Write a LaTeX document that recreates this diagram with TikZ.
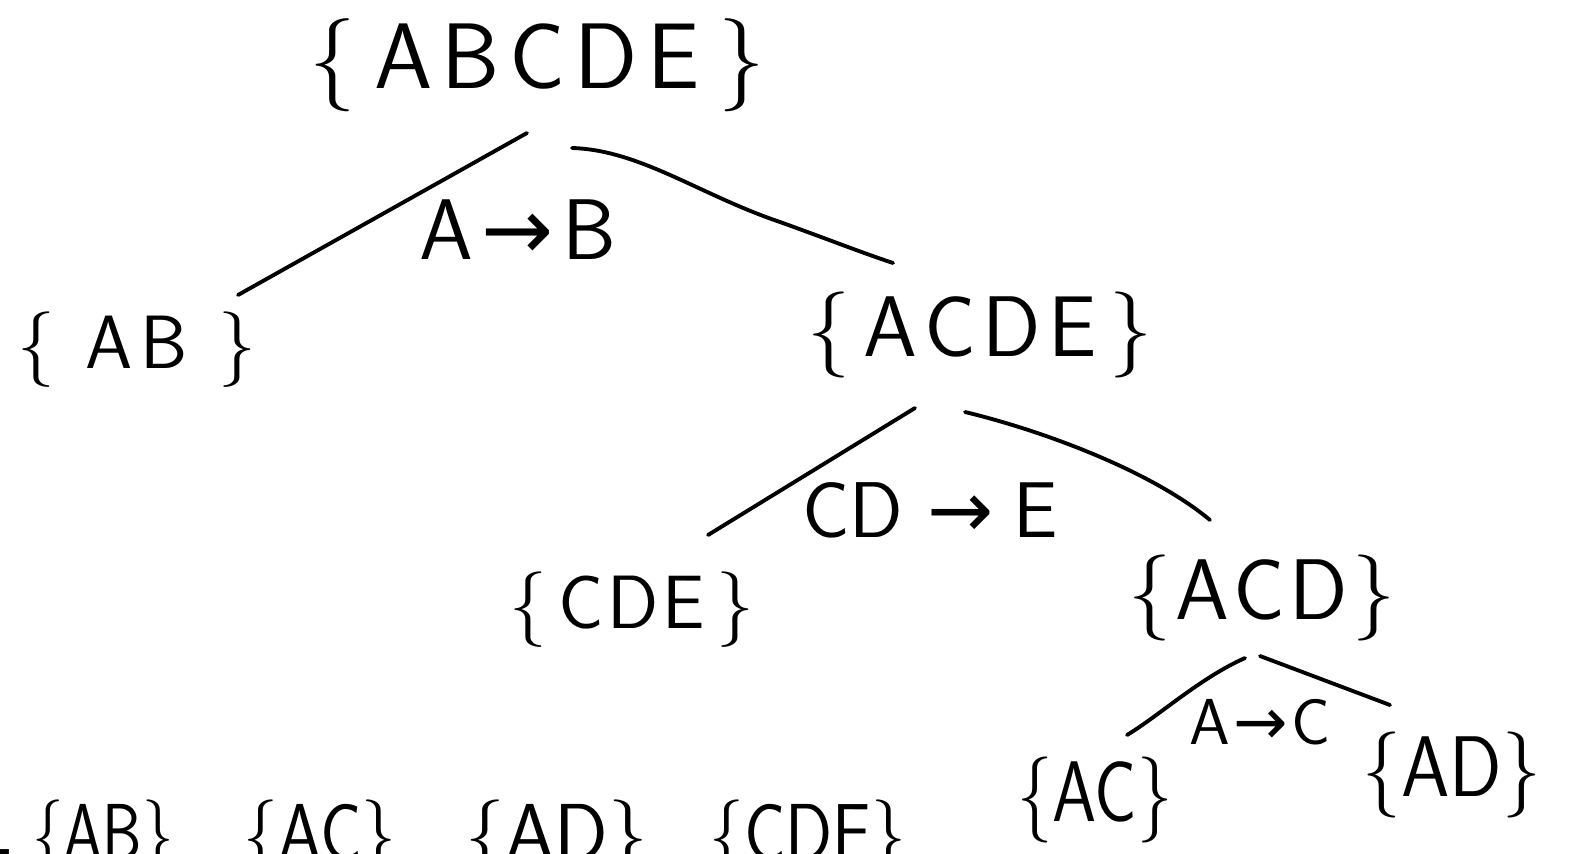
\documentclass[tikz,border=0pt]{standalone}
\usepackage{fontspec}
\usepackage{graphicx}
\usetikzlibrary{calc}
\newfontfamily\arrowfont{DejaVu Sans}
\newcommand\hsz[1]{\fontsize{#1}{#1}\selectfont\sffamily}
\newcommand\gap[1]{\hspace{#1em}}
\newcommand\implies{{\arrowfont →}}
\tikzset{
  x=0.02cm, y=-0.02cm,
  setnode/.style={inner sep=0pt, anchor=center},
  rowset/.style={inner sep=0pt, anchor=base, font=\hsz{46}},
  branch/.style={line width=2.2pt, line cap=round, line join=round},
}
\begin{document}
\begin{tikzpicture}
\useasboundingbox (0,0) rectangle (1578,853);
\clip (0,0) rectangle (1578,853);

% sets of the decomposition tree
\node[setnode, font=\hsz{53}] (root) at (537,65)
  {\{\gap{.2}A\gap{.1}B\gap{.1}C\gap{.1}D\gap{.1}E\gap{.2}\}};
\node[setnode, font=\hsz{43}] (ab)   at (137,350)
  {\{\gap{.4}A\gap{.1}B\gap{.4}\}};
\node[setnode, font=\hsz{49}] (acde) at (980,335)
  {\{\gap{.15}A\gap{.08}C\gap{.08}D\gap{.08}E\gap{.15}\}};
\node[setnode, font=\hsz{43}] (cde)  at (632,610)
  {\{\gap{.15}C\gap{.05}D\gap{.05}E\gap{.15}\}};
\node[setnode, font=\hsz{49}] (acd)  at (1262,598)
  {\{\gap{.05}A\gap{.05}C\gap{.05}D\gap{.05}\}};
\node[setnode, font=\hsz{49}] (ac)   at (1095,800) {\scalebox{0.82}[1]{\{AC\}}};
\node[setnode, font=\hsz{49}] (ad)   at (1452,775) {\scalebox{0.9}[1]{\{AD\}}};

% dependencies used for each split
\node[setnode, font=\hsz{49}] (fab)  at (518,230) {A\gap{.1}\implies\gap{.1}B};
\node[setnode, font=\hsz{45}] (fcde) at (930,510) {CD\gap{.3}\implies\gap{.25}E};
\node[setnode, font=\hsz{37}] (fac)  at (1260,722) {A\gap{.05}\implies\gap{.05}C};

% branches
\draw[branch] ($(root)+(-10,68)$) -- ($(ab)+(101,-55)$);
\draw[branch] ($(root)+(35,83)$)
  .. controls ($(root)+(103,85)$) and ($(root)+(163,130)$) .. ($(root)+(243,157)$)
  .. controls ($(root)+(293,175)$) and ($(root)+(323,187)$) .. ($(acde)+(-87,-72)$);
\draw[branch] ($(acde)+(-65,73)$) -- ($(cde)+(76,-75)$);
\draw[branch] ($(acde)+(-15,77)$)
  .. controls ($(acde)+(60,95)$) and ($(acde)+(170,135)$) .. ($(acd)+(-52,-78)$);
\draw[branch] ($(acd)+(-17,60)$)
  .. controls ($(acd)+(-62,80)$) and ($(acd)+(-102,117)$) .. ($(ac)+(32,-65)$);
\draw[branch] ($(acd)+(-2,58)$) -- ($(ad)+(-62,-70)$);

% resulting decomposition
\node[rowset, anchor=base east] (eq) at (10,873) {–};
\node[rowset] (r1)  at (103,860) {\scalebox{0.78}[1]{\{AB\}}};
\node[rowset] (r2)  at (320,860) {\scalebox{0.86}[1]{\{AC\}}};
\node[rowset] (r3)  at (557,860) {\scalebox{0.98}[1]{\{AD\}}};
\node[rowset] (r4)  at (808,860) {\scalebox{0.86}[1]{\{CDE\}}};
\end{tikzpicture}
\end{document}
